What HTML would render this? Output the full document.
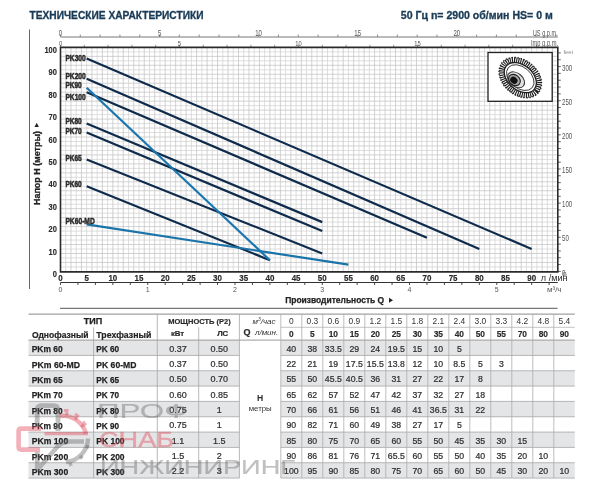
<!DOCTYPE html><html><head><meta charset="utf-8"><style>
html,body{margin:0;padding:0;background:#fff;width:600px;height:495px;overflow:hidden}
svg{display:block;filter:blur(0.35px)}
text{font-family:"Liberation Sans","DejaVu Sans",sans-serif}
</style></head><body>
<svg width="600" height="495" viewBox="0 0 600 495">
<text x="29.5" y="19.4" font-size="10.4" font-weight="bold" fill="#183a56" stroke="#183a56" stroke-width="0.3" textLength="174" lengthAdjust="spacingAndGlyphs">ТЕХНИЧЕСКИЕ ХАРАКТЕРИСТИКИ</text>
<text x="400.8" y="19.2" font-size="10.4" font-weight="bold" fill="#183a56" stroke="#183a56" stroke-width="0.3" textLength="152" lengthAdjust="spacingAndGlyphs">50 Гц n= 2900 об/мин HS= 0 м</text>
<line x1="29.5" y1="29.5" x2="29.5" y2="289" stroke="#666" stroke-width="1"/>
<path d="M65.73 47.40V271.40M76.20 47.40V271.40M86.67 47.40V271.40M97.15 47.40V271.40M107.62 47.40V271.40M118.09 47.40V271.40M128.56 47.40V271.40M139.03 47.40V271.40M149.50 47.40V271.40M159.97 47.40V271.40M170.44 47.40V271.40M180.91 47.40V271.40M191.38 47.40V271.40M201.84 47.40V271.40M212.31 47.40V271.40M222.78 47.40V271.40M233.26 47.40V271.40M243.73 47.40V271.40M254.20 47.40V271.40M264.67 47.40V271.40M275.13 47.40V271.40M285.61 47.40V271.40M296.08 47.40V271.40M306.55 47.40V271.40M317.02 47.40V271.40M327.49 47.40V271.40M337.96 47.40V271.40M348.43 47.40V271.40M358.90 47.40V271.40M369.37 47.40V271.40M379.84 47.40V271.40M390.31 47.40V271.40M400.78 47.40V271.40M411.25 47.40V271.40M421.72 47.40V271.40M432.19 47.40V271.40M442.66 47.40V271.40M453.12 47.40V271.40M463.60 47.40V271.40M474.06 47.40V271.40M484.54 47.40V271.40M495.01 47.40V271.40M505.48 47.40V271.40M515.95 47.40V271.40M526.41 47.40V271.40M536.88 47.40V271.40M547.36 47.40V271.40M60.50 266.92H557.80M60.50 257.96H557.80M60.50 249.00H557.80M60.50 240.04H557.80M60.50 231.08H557.80M60.50 222.12H557.80M60.50 213.16H557.80M60.50 204.20H557.80M60.50 195.24H557.80M60.50 186.28H557.80M60.50 177.32H557.80M60.50 168.36H557.80M60.50 159.40H557.80M60.50 150.44H557.80M60.50 141.48H557.80M60.50 132.52H557.80M60.50 123.56H557.80M60.50 114.60H557.80M60.50 105.64H557.80M60.50 96.68H557.80M60.50 87.72H557.80M60.50 78.76H557.80M60.50 69.80H557.80M60.50 60.84H557.80M60.50 51.88H557.80" stroke="#d6d6d6" stroke-width="0.8" fill="none"/>
<path d="M70.97 47.40V271.40M81.44 47.40V271.40M91.91 47.40V271.40M102.38 47.40V271.40M112.85 47.40V271.40M123.32 47.40V271.40M133.79 47.40V271.40M144.26 47.40V271.40M154.73 47.40V271.40M165.20 47.40V271.40M175.67 47.40V271.40M186.14 47.40V271.40M196.61 47.40V271.40M207.08 47.40V271.40M217.55 47.40V271.40M228.02 47.40V271.40M238.49 47.40V271.40M248.96 47.40V271.40M259.43 47.40V271.40M269.90 47.40V271.40M280.37 47.40V271.40M290.84 47.40V271.40M301.31 47.40V271.40M311.78 47.40V271.40M322.25 47.40V271.40M332.72 47.40V271.40M343.19 47.40V271.40M353.66 47.40V271.40M364.13 47.40V271.40M374.60 47.40V271.40M385.07 47.40V271.40M395.54 47.40V271.40M406.01 47.40V271.40M416.48 47.40V271.40M426.95 47.40V271.40M437.42 47.40V271.40M447.89 47.40V271.40M458.36 47.40V271.40M468.83 47.40V271.40M479.30 47.40V271.40M489.77 47.40V271.40M500.24 47.40V271.40M510.71 47.40V271.40M521.18 47.40V271.40M531.65 47.40V271.40M542.12 47.40V271.40M552.59 47.40V271.40M60.50 262.44H557.80M60.50 253.48H557.80M60.50 244.52H557.80M60.50 235.56H557.80M60.50 226.60H557.80M60.50 217.64H557.80M60.50 208.68H557.80M60.50 199.72H557.80M60.50 190.76H557.80M60.50 181.80H557.80M60.50 172.84H557.80M60.50 163.88H557.80M60.50 154.92H557.80M60.50 145.96H557.80M60.50 137.00H557.80M60.50 128.04H557.80M60.50 119.08H557.80M60.50 110.12H557.80M60.50 101.16H557.80M60.50 92.20H557.80M60.50 83.24H557.80M60.50 74.28H557.80M60.50 65.32H557.80M60.50 56.36H557.80" stroke="#c6c6c6" stroke-width="0.8" fill="none"/>
<line x1="60.5" y1="37" x2="557.8" y2="37" stroke="#777" stroke-width="1"/>
<path d="M60.50 37V34.5M80.31 37V34.5M100.13 37V34.5M119.94 37V34.5M139.76 37V34.5M159.57 37V34.5M179.39 37V34.5M199.20 37V34.5M219.02 37V34.5M238.83 37V34.5M258.64 37V34.5M278.46 37V34.5M298.27 37V34.5M318.09 37V34.5M337.90 37V34.5M357.72 37V34.5M377.53 37V34.5M397.35 37V34.5M417.16 37V34.5M436.98 37V34.5M456.79 37V34.5M476.60 37V34.5M496.42 37V34.5M516.23 37V34.5M536.05 37V34.5M555.86 37V34.5" stroke="#777" stroke-width="0.8"/>
<text x="60.50" y="36.4" font-size="8.4" fill="#555" text-anchor="middle" transform="translate(60.50 0) scale(0.72 1) translate(-60.50 0)">0</text>
<text x="159.57" y="36.4" font-size="8.4" fill="#555" text-anchor="middle" transform="translate(159.57 0) scale(0.72 1) translate(-159.57 0)">5</text>
<text x="258.64" y="36.4" font-size="8.4" fill="#555" text-anchor="middle" transform="translate(258.64 0) scale(0.72 1) translate(-258.64 0)">10</text>
<text x="357.72" y="36.4" font-size="8.4" fill="#555" text-anchor="middle" transform="translate(357.72 0) scale(0.72 1) translate(-357.72 0)">15</text>
<text x="456.79" y="36.4" font-size="8.4" fill="#555" text-anchor="middle" transform="translate(456.79 0) scale(0.72 1) translate(-456.79 0)">20</text>
<text x="557.8" y="36.3" font-size="8.6" fill="#555" text-anchor="end" textLength="25" lengthAdjust="spacingAndGlyphs">US g.p.m.</text>
<path d="M60.50 47.4V44.8M84.30 47.4V44.8M108.10 47.4V44.8M131.89 47.4V44.8M155.69 47.4V44.8M179.49 47.4V44.8M203.29 47.4V44.8M227.09 47.4V44.8M250.89 47.4V44.8M274.68 47.4V44.8M298.48 47.4V44.8M322.28 47.4V44.8M346.08 47.4V44.8M369.88 47.4V44.8M393.68 47.4V44.8M417.47 47.4V44.8M441.27 47.4V44.8M465.07 47.4V44.8M488.87 47.4V44.8M512.67 47.4V44.8M536.47 47.4V44.8" stroke="#777" stroke-width="0.8"/>
<text x="60.50" y="45.6" font-size="8" fill="#555" text-anchor="middle" transform="translate(60.50 0) scale(0.72 1) translate(-60.50 0)">0</text>
<text x="179.49" y="45.6" font-size="8" fill="#555" text-anchor="middle" transform="translate(179.49 0) scale(0.72 1) translate(-179.49 0)">5</text>
<text x="298.48" y="45.6" font-size="8" fill="#555" text-anchor="middle" transform="translate(298.48 0) scale(0.72 1) translate(-298.48 0)">10</text>
<text x="417.47" y="45.6" font-size="8" fill="#555" text-anchor="middle" transform="translate(417.47 0) scale(0.72 1) translate(-417.47 0)">15</text>
<text x="558" y="45.6" font-size="8.6" fill="#555" text-anchor="end" textLength="27" lengthAdjust="spacingAndGlyphs">Imp g.p.m.</text>
<path d="M557.80 271.40H560.80M557.80 264.57H560.80M557.80 257.74H560.80M557.80 250.92H560.80M557.80 244.09H560.80M557.80 237.26H560.80M557.80 230.43H560.80M557.80 223.61H560.80M557.80 216.78H560.80M557.80 209.95H560.80M557.80 203.12H560.80M557.80 196.30H560.80M557.80 189.47H560.80M557.80 182.64H560.80M557.80 175.81H560.80M557.80 168.99H560.80M557.80 162.16H560.80M557.80 155.33H560.80M557.80 148.50H560.80M557.80 141.68H560.80M557.80 134.85H560.80M557.80 128.02H560.80M557.80 121.19H560.80M557.80 114.37H560.80M557.80 107.54H560.80M557.80 100.71H560.80M557.80 93.88H560.80M557.80 87.06H560.80M557.80 80.23H560.80M557.80 73.40H560.80M557.80 66.57H560.80M557.80 59.75H560.80M557.80 52.92H560.80" stroke="#555" stroke-width="0.9"/>
<text x="562" y="275.60" font-size="8.4" fill="#555" textLength="3.4" lengthAdjust="spacingAndGlyphs">0</text>
<text x="562" y="241.46" font-size="8.4" fill="#555" textLength="6.8" lengthAdjust="spacingAndGlyphs">50</text>
<text x="562" y="207.32" font-size="8.4" fill="#555" textLength="10.2" lengthAdjust="spacingAndGlyphs">100</text>
<text x="562" y="173.19" font-size="8.4" fill="#555" textLength="10.2" lengthAdjust="spacingAndGlyphs">150</text>
<text x="562" y="139.05" font-size="8.4" fill="#555" textLength="10.2" lengthAdjust="spacingAndGlyphs">200</text>
<text x="562" y="104.91" font-size="8.4" fill="#555" textLength="10.2" lengthAdjust="spacingAndGlyphs">250</text>
<text x="562" y="70.77" font-size="8.4" fill="#555" textLength="10.2" lengthAdjust="spacingAndGlyphs">300</text>
<text x="563.5" y="53.5" font-size="4.5" fill="#888" textLength="9.5" lengthAdjust="spacingAndGlyphs">feet</text>
<rect x="488" y="52.5" width="64.2" height="48.8" fill="#fff" stroke="#222" stroke-width="1.3"/>
<g transform="translate(520.3 77.6) rotate(40)"><ellipse rx="23.6" ry="17.4" fill="none" stroke="#2a2a2a" stroke-width="1.3" stroke-dasharray="1.5 1.5"/><ellipse rx="20.9" ry="14.9" fill="none" stroke="#1e1e1e" stroke-width="5.2" stroke-dasharray="1.15 0.95"/><ellipse rx="18.2" ry="12.4" fill="#fff" stroke="#1e1e1e" stroke-width="1.3"/><ellipse rx="15.6" ry="10.6" fill="none" stroke="#333" stroke-width="0.9"/><ellipse cx="-1.8" cy="4.4" rx="9.6" ry="6.6" fill="#e0e0e0" stroke="#333" stroke-width="1"/><ellipse cx="-2.9" cy="5.6" rx="6.4" ry="5" fill="#a8a8a8" stroke="#1e1e1e" stroke-width="1.1"/><ellipse cx="-3.2" cy="6.2" rx="3.9" ry="3.2" fill="#111"/></g>
<path d="M60.5 271.9V47.4H557.8V271.9Z" fill="none" stroke="#2a2a2a" stroke-width="1.6"/>
<text x="57" y="277.00" font-size="9.9" font-weight="bold" fill="#2a2a2a" stroke="#2a2a2a" stroke-width="0.15" text-anchor="end" transform="translate(57 0) scale(0.76 1) translate(-57 0)">0</text>
<text x="57" y="254.60" font-size="9.9" font-weight="bold" fill="#2a2a2a" stroke="#2a2a2a" stroke-width="0.15" text-anchor="end" transform="translate(57 0) scale(0.76 1) translate(-57 0)">10</text>
<text x="57" y="232.20" font-size="9.9" font-weight="bold" fill="#2a2a2a" stroke="#2a2a2a" stroke-width="0.15" text-anchor="end" transform="translate(57 0) scale(0.76 1) translate(-57 0)">20</text>
<text x="57" y="209.80" font-size="9.9" font-weight="bold" fill="#2a2a2a" stroke="#2a2a2a" stroke-width="0.15" text-anchor="end" transform="translate(57 0) scale(0.76 1) translate(-57 0)">30</text>
<text x="57" y="187.40" font-size="9.9" font-weight="bold" fill="#2a2a2a" stroke="#2a2a2a" stroke-width="0.15" text-anchor="end" transform="translate(57 0) scale(0.76 1) translate(-57 0)">40</text>
<text x="57" y="165.00" font-size="9.9" font-weight="bold" fill="#2a2a2a" stroke="#2a2a2a" stroke-width="0.15" text-anchor="end" transform="translate(57 0) scale(0.76 1) translate(-57 0)">50</text>
<text x="57" y="142.60" font-size="9.9" font-weight="bold" fill="#2a2a2a" stroke="#2a2a2a" stroke-width="0.15" text-anchor="end" transform="translate(57 0) scale(0.76 1) translate(-57 0)">60</text>
<text x="57" y="120.20" font-size="9.9" font-weight="bold" fill="#2a2a2a" stroke="#2a2a2a" stroke-width="0.15" text-anchor="end" transform="translate(57 0) scale(0.76 1) translate(-57 0)">70</text>
<text x="57" y="97.80" font-size="9.9" font-weight="bold" fill="#2a2a2a" stroke="#2a2a2a" stroke-width="0.15" text-anchor="end" transform="translate(57 0) scale(0.76 1) translate(-57 0)">80</text>
<text x="57" y="75.40" font-size="9.9" font-weight="bold" fill="#2a2a2a" stroke="#2a2a2a" stroke-width="0.15" text-anchor="end" transform="translate(57 0) scale(0.76 1) translate(-57 0)">90</text>
<text x="57" y="53.00" font-size="9.9" font-weight="bold" fill="#2a2a2a" stroke="#2a2a2a" stroke-width="0.15" text-anchor="end" transform="translate(57 0) scale(0.76 1) translate(-57 0)">100</text>
<g transform="translate(40.2 205) rotate(-90)"><text x="0" y="0" font-size="8.2" font-weight="bold" fill="#222" stroke="#222" stroke-width="0.3" textLength="74" lengthAdjust="spacingAndGlyphs">Напор H (метры)</text><path d="M78 -5.7 L82.2 -3.5 L78 -1.3Z" fill="#222"/></g>
<line x1="86.67" y1="58.60" x2="531.65" y2="249.00" stroke="#0f2b4c" stroke-width="2.2" stroke-linecap="butt"/>
<line x1="86.67" y1="78.76" x2="479.30" y2="249.00" stroke="#0f2b4c" stroke-width="2.2" stroke-linecap="butt"/>
<line x1="86.67" y1="92.20" x2="426.95" y2="237.80" stroke="#0f2b4c" stroke-width="2.2" stroke-linecap="butt"/>
<line x1="86.67" y1="123.56" x2="322.25" y2="222.12" stroke="#0f2b4c" stroke-width="2.2" stroke-linecap="butt"/>
<line x1="86.67" y1="132.52" x2="322.25" y2="231.08" stroke="#0f2b4c" stroke-width="2.2" stroke-linecap="butt"/>
<line x1="86.67" y1="159.40" x2="322.25" y2="253.48" stroke="#0f2b4c" stroke-width="2.2" stroke-linecap="butt"/>
<line x1="86.67" y1="186.28" x2="269.90" y2="260.20" stroke="#0f2b4c" stroke-width="2.2" stroke-linecap="butt"/>
<line x1="86.67" y1="224.36" x2="348.43" y2="264.68" stroke="#1a74aa" stroke-width="2.2" stroke-linecap="butt"/>
<line x1="86.67" y1="87.72" x2="269.90" y2="260.20" stroke="#1a76ae" stroke-width="2.2" stroke-linecap="butt"/>
<text x="65.4" y="60.60" font-size="8.8" font-weight="bold" fill="#2a2a2a" stroke="#2a2a2a" stroke-width="0.5" textLength="20.4" lengthAdjust="spacingAndGlyphs">PK300</text>
<text x="65.4" y="79.40" font-size="8.8" font-weight="bold" fill="#2a2a2a" stroke="#2a2a2a" stroke-width="0.5" textLength="20.4" lengthAdjust="spacingAndGlyphs">PK200</text>
<text x="65.4" y="88.40" font-size="8.8" font-weight="bold" fill="#2a2a2a" stroke="#2a2a2a" stroke-width="0.5" textLength="16.3" lengthAdjust="spacingAndGlyphs">PK90</text>
<text x="65.4" y="100.30" font-size="8.8" font-weight="bold" fill="#2a2a2a" stroke="#2a2a2a" stroke-width="0.5" textLength="20.4" lengthAdjust="spacingAndGlyphs">PK100</text>
<text x="65.4" y="124.10" font-size="8.8" font-weight="bold" fill="#2a2a2a" stroke="#2a2a2a" stroke-width="0.5" textLength="16.3" lengthAdjust="spacingAndGlyphs">PK80</text>
<text x="65.4" y="133.70" font-size="8.8" font-weight="bold" fill="#2a2a2a" stroke="#2a2a2a" stroke-width="0.5" textLength="16.3" lengthAdjust="spacingAndGlyphs">PK70</text>
<text x="65.4" y="161.10" font-size="8.8" font-weight="bold" fill="#2a2a2a" stroke="#2a2a2a" stroke-width="0.5" textLength="16.3" lengthAdjust="spacingAndGlyphs">PK65</text>
<text x="65.4" y="186.60" font-size="8.8" font-weight="bold" fill="#2a2a2a" stroke="#2a2a2a" stroke-width="0.5" textLength="16.3" lengthAdjust="spacingAndGlyphs">PK60</text>
<text x="65.4" y="223.50" font-size="8.8" font-weight="bold" fill="#2a2a2a" stroke="#2a2a2a" stroke-width="0.5" textLength="29.4" lengthAdjust="spacingAndGlyphs">PK60-MD</text>
<text x="60.50" y="281.3" font-size="9.7" font-weight="bold" fill="#2a2a2a" stroke="#2a2a2a" stroke-width="0.2" text-anchor="middle" transform="translate(60.50 0) scale(0.82 1) translate(-60.50 0)">0</text>
<text x="86.67" y="281.3" font-size="9.7" font-weight="bold" fill="#2a2a2a" stroke="#2a2a2a" stroke-width="0.2" text-anchor="middle" transform="translate(86.67 0) scale(0.82 1) translate(-86.67 0)">5</text>
<text x="112.85" y="281.3" font-size="9.7" font-weight="bold" fill="#2a2a2a" stroke="#2a2a2a" stroke-width="0.2" text-anchor="middle" transform="translate(112.85 0) scale(0.82 1) translate(-112.85 0)">10</text>
<text x="139.03" y="281.3" font-size="9.7" font-weight="bold" fill="#2a2a2a" stroke="#2a2a2a" stroke-width="0.2" text-anchor="middle" transform="translate(139.03 0) scale(0.82 1) translate(-139.03 0)">15</text>
<text x="165.20" y="281.3" font-size="9.7" font-weight="bold" fill="#2a2a2a" stroke="#2a2a2a" stroke-width="0.2" text-anchor="middle" transform="translate(165.20 0) scale(0.82 1) translate(-165.20 0)">20</text>
<text x="191.38" y="281.3" font-size="9.7" font-weight="bold" fill="#2a2a2a" stroke="#2a2a2a" stroke-width="0.2" text-anchor="middle" transform="translate(191.38 0) scale(0.82 1) translate(-191.38 0)">25</text>
<text x="217.55" y="281.3" font-size="9.7" font-weight="bold" fill="#2a2a2a" stroke="#2a2a2a" stroke-width="0.2" text-anchor="middle" transform="translate(217.55 0) scale(0.82 1) translate(-217.55 0)">30</text>
<text x="243.73" y="281.3" font-size="9.7" font-weight="bold" fill="#2a2a2a" stroke="#2a2a2a" stroke-width="0.2" text-anchor="middle" transform="translate(243.73 0) scale(0.82 1) translate(-243.73 0)">35</text>
<text x="269.90" y="281.3" font-size="9.7" font-weight="bold" fill="#2a2a2a" stroke="#2a2a2a" stroke-width="0.2" text-anchor="middle" transform="translate(269.90 0) scale(0.82 1) translate(-269.90 0)">40</text>
<text x="296.08" y="281.3" font-size="9.7" font-weight="bold" fill="#2a2a2a" stroke="#2a2a2a" stroke-width="0.2" text-anchor="middle" transform="translate(296.08 0) scale(0.82 1) translate(-296.08 0)">45</text>
<text x="322.25" y="281.3" font-size="9.7" font-weight="bold" fill="#2a2a2a" stroke="#2a2a2a" stroke-width="0.2" text-anchor="middle" transform="translate(322.25 0) scale(0.82 1) translate(-322.25 0)">50</text>
<text x="348.43" y="281.3" font-size="9.7" font-weight="bold" fill="#2a2a2a" stroke="#2a2a2a" stroke-width="0.2" text-anchor="middle" transform="translate(348.43 0) scale(0.82 1) translate(-348.43 0)">55</text>
<text x="374.60" y="281.3" font-size="9.7" font-weight="bold" fill="#2a2a2a" stroke="#2a2a2a" stroke-width="0.2" text-anchor="middle" transform="translate(374.60 0) scale(0.82 1) translate(-374.60 0)">60</text>
<text x="400.78" y="281.3" font-size="9.7" font-weight="bold" fill="#2a2a2a" stroke="#2a2a2a" stroke-width="0.2" text-anchor="middle" transform="translate(400.78 0) scale(0.82 1) translate(-400.78 0)">65</text>
<text x="426.95" y="281.3" font-size="9.7" font-weight="bold" fill="#2a2a2a" stroke="#2a2a2a" stroke-width="0.2" text-anchor="middle" transform="translate(426.95 0) scale(0.82 1) translate(-426.95 0)">70</text>
<text x="453.12" y="281.3" font-size="9.7" font-weight="bold" fill="#2a2a2a" stroke="#2a2a2a" stroke-width="0.2" text-anchor="middle" transform="translate(453.12 0) scale(0.82 1) translate(-453.12 0)">75</text>
<text x="479.30" y="281.3" font-size="9.7" font-weight="bold" fill="#2a2a2a" stroke="#2a2a2a" stroke-width="0.2" text-anchor="middle" transform="translate(479.30 0) scale(0.82 1) translate(-479.30 0)">80</text>
<text x="505.48" y="281.3" font-size="9.7" font-weight="bold" fill="#2a2a2a" stroke="#2a2a2a" stroke-width="0.2" text-anchor="middle" transform="translate(505.48 0) scale(0.82 1) translate(-505.48 0)">85</text>
<text x="531.65" y="281.3" font-size="9.7" font-weight="bold" fill="#2a2a2a" stroke="#2a2a2a" stroke-width="0.2" text-anchor="middle" transform="translate(531.65 0) scale(0.82 1) translate(-531.65 0)">90</text>
<text x="540.8" y="281.4" font-size="9.8" fill="#2a2a2a" textLength="26.8" lengthAdjust="spacingAndGlyphs">л /мин</text>
<text x="562.5" y="276.5" font-size="7.5" fill="#555">0</text>
<line x1="60.5" y1="282.5" x2="557.8" y2="282.5" stroke="#333" stroke-width="1"/>
<path d="M60.50 282.5V285M77.95 282.5V285M95.40 282.5V285M112.85 282.5V285M130.30 282.5V285M147.75 282.5V285M165.20 282.5V285M182.65 282.5V285M200.10 282.5V285M217.55 282.5V285M235.00 282.5V285M252.45 282.5V285M269.90 282.5V285M287.35 282.5V285M304.80 282.5V285M322.25 282.5V285M339.70 282.5V285M357.15 282.5V285M374.60 282.5V285M392.05 282.5V285M409.50 282.5V285M426.95 282.5V285M444.40 282.5V285M461.85 282.5V285M479.30 282.5V285M496.75 282.5V285M514.20 282.5V285M531.65 282.5V285M549.10 282.5V285" stroke="#333" stroke-width="0.9"/>
<text x="60.50" y="291.8" font-size="7" fill="#555" text-anchor="middle">0</text>
<text x="147.75" y="291.8" font-size="7" fill="#555" text-anchor="middle">1</text>
<text x="235.00" y="291.8" font-size="7" fill="#555" text-anchor="middle">2</text>
<text x="322.25" y="291.8" font-size="7" fill="#555" text-anchor="middle">3</text>
<text x="409.50" y="291.8" font-size="7" fill="#555" text-anchor="middle">4</text>
<text x="496.75" y="291.8" font-size="7" fill="#555" text-anchor="middle">5</text>
<text x="547" y="291.8" font-size="7.6" fill="#555" textLength="14.5" lengthAdjust="spacingAndGlyphs">м³/ч</text>
<text x="285.2" y="302.8" font-size="8.8" font-weight="bold" fill="#222" stroke="#222" stroke-width="0.25" textLength="99" lengthAdjust="spacingAndGlyphs">Производительность Q</text>
<path d="M389 297.8 L393 300.3 L389 302.8Z" fill="#222"/>
<line x1="60" y1="308.3" x2="557.5" y2="308.3" stroke="#444" stroke-width="0.9"/>
<rect x="28.5" y="340.10" width="210.90" height="15.33" fill="#e4e5e7"/>
<rect x="280.8" y="340.10" width="294.00" height="15.33" fill="#e4e5e7"/>
<rect x="28.5" y="370.76" width="210.90" height="15.33" fill="#e4e5e7"/>
<rect x="280.8" y="370.76" width="294.00" height="15.33" fill="#e4e5e7"/>
<rect x="28.5" y="401.42" width="210.90" height="15.33" fill="#e4e5e7"/>
<rect x="280.8" y="401.42" width="294.00" height="15.33" fill="#e4e5e7"/>
<rect x="28.5" y="432.08" width="210.90" height="15.33" fill="#e4e5e7"/>
<rect x="280.8" y="432.08" width="294.00" height="15.33" fill="#e4e5e7"/>
<rect x="28.5" y="462.74" width="210.90" height="15.33" fill="#e4e5e7"/>
<rect x="280.8" y="462.74" width="294.00" height="15.33" fill="#e4e5e7"/>
<line x1="28.5" y1="314.1" x2="574.80" y2="314.1" stroke="#8a8a8a" stroke-width="1"/>
<line x1="280.8" y1="327.3" x2="574.80" y2="327.3" stroke="#b5b5b5" stroke-width="0.8"/>
<line x1="28.5" y1="340.1" x2="574.80" y2="340.1" stroke="#9a9a9a" stroke-width="1"/>
<line x1="28.5" y1="355.43" x2="239.40" y2="355.43" stroke="#a6a6a6" stroke-width="0.8"/>
<line x1="280.8" y1="355.43" x2="574.80" y2="355.43" stroke="#a6a6a6" stroke-width="0.8"/>
<line x1="28.5" y1="370.76" x2="239.40" y2="370.76" stroke="#a6a6a6" stroke-width="0.8"/>
<line x1="280.8" y1="370.76" x2="574.80" y2="370.76" stroke="#a6a6a6" stroke-width="0.8"/>
<line x1="28.5" y1="386.09" x2="239.40" y2="386.09" stroke="#a6a6a6" stroke-width="0.8"/>
<line x1="280.8" y1="386.09" x2="574.80" y2="386.09" stroke="#a6a6a6" stroke-width="0.8"/>
<line x1="28.5" y1="401.42" x2="239.40" y2="401.42" stroke="#a6a6a6" stroke-width="0.8"/>
<line x1="280.8" y1="401.42" x2="574.80" y2="401.42" stroke="#a6a6a6" stroke-width="0.8"/>
<line x1="28.5" y1="416.75" x2="239.40" y2="416.75" stroke="#a6a6a6" stroke-width="0.8"/>
<line x1="280.8" y1="416.75" x2="574.80" y2="416.75" stroke="#a6a6a6" stroke-width="0.8"/>
<line x1="28.5" y1="432.08" x2="239.40" y2="432.08" stroke="#a6a6a6" stroke-width="0.8"/>
<line x1="280.8" y1="432.08" x2="574.80" y2="432.08" stroke="#a6a6a6" stroke-width="0.8"/>
<line x1="28.5" y1="447.41" x2="239.40" y2="447.41" stroke="#a6a6a6" stroke-width="0.8"/>
<line x1="280.8" y1="447.41" x2="574.80" y2="447.41" stroke="#a6a6a6" stroke-width="0.8"/>
<line x1="28.5" y1="462.74" x2="239.40" y2="462.74" stroke="#a6a6a6" stroke-width="0.8"/>
<line x1="280.8" y1="462.74" x2="574.80" y2="462.74" stroke="#a6a6a6" stroke-width="0.8"/>
<line x1="28.5" y1="478.07" x2="239.40" y2="478.07" stroke="#a6a6a6" stroke-width="0.8"/>
<line x1="280.8" y1="478.07" x2="574.80" y2="478.07" stroke="#a6a6a6" stroke-width="0.8"/>
<line x1="93.6" y1="327.3" x2="93.6" y2="478.07" stroke="#a6a6a6" stroke-width="0.8"/>
<line x1="157.3" y1="314.1" x2="157.3" y2="478.07" stroke="#a6a6a6" stroke-width="0.8"/>
<line x1="198.7" y1="327.3" x2="198.7" y2="478.07" stroke="#a6a6a6" stroke-width="0.8"/>
<line x1="239.4" y1="314.1" x2="239.4" y2="478.07" stroke="#a6a6a6" stroke-width="0.8"/>
<line x1="280.80" y1="314.1" x2="280.80" y2="478.07" stroke="#acacac" stroke-width="0.8"/>
<line x1="301.80" y1="314.1" x2="301.80" y2="478.07" stroke="#acacac" stroke-width="0.8"/>
<line x1="322.80" y1="314.1" x2="322.80" y2="478.07" stroke="#acacac" stroke-width="0.8"/>
<line x1="343.80" y1="314.1" x2="343.80" y2="478.07" stroke="#acacac" stroke-width="0.8"/>
<line x1="364.80" y1="314.1" x2="364.80" y2="478.07" stroke="#acacac" stroke-width="0.8"/>
<line x1="385.80" y1="314.1" x2="385.80" y2="478.07" stroke="#acacac" stroke-width="0.8"/>
<line x1="406.80" y1="314.1" x2="406.80" y2="478.07" stroke="#acacac" stroke-width="0.8"/>
<line x1="427.80" y1="314.1" x2="427.80" y2="478.07" stroke="#acacac" stroke-width="0.8"/>
<line x1="448.80" y1="314.1" x2="448.80" y2="478.07" stroke="#acacac" stroke-width="0.8"/>
<line x1="469.80" y1="314.1" x2="469.80" y2="478.07" stroke="#acacac" stroke-width="0.8"/>
<line x1="490.80" y1="314.1" x2="490.80" y2="478.07" stroke="#acacac" stroke-width="0.8"/>
<line x1="511.80" y1="314.1" x2="511.80" y2="478.07" stroke="#acacac" stroke-width="0.8"/>
<line x1="532.80" y1="314.1" x2="532.80" y2="478.07" stroke="#acacac" stroke-width="0.8"/>
<line x1="553.80" y1="314.1" x2="553.80" y2="478.07" stroke="#acacac" stroke-width="0.8"/>
<text x="92.9" y="324" font-size="9" font-weight="bold" fill="#222" stroke="#222" stroke-width="0.25" text-anchor="middle">ТИП</text>
<text x="32" y="338.2" font-size="9.2" font-weight="bold" fill="#222" stroke="#222" stroke-width="0.2" textLength="56.6" lengthAdjust="spacingAndGlyphs">Однофазный</text>
<text x="96.3" y="338.2" font-size="9.2" font-weight="bold" fill="#222" stroke="#222" stroke-width="0.2" textLength="55" lengthAdjust="spacingAndGlyphs">Трехфазный</text>
<text x="199.5" y="323.7" font-size="8" font-weight="bold" fill="#2a2a2a" stroke="#2a2a2a" stroke-width="0.2" text-anchor="middle" textLength="62.4" lengthAdjust="spacingAndGlyphs">МОЩНОСТЬ (P2)</text>
<text x="177.5" y="335.7" font-size="7.8" font-weight="bold" fill="#2a2a2a" stroke="#2a2a2a" stroke-width="0.2" text-anchor="middle">кВт</text>
<text x="222.7" y="335.7" font-size="7.8" font-weight="bold" fill="#2a2a2a" stroke="#2a2a2a" stroke-width="0.2" text-anchor="middle">ЛС</text>
<text x="243.6" y="334.6" font-size="9" font-weight="bold" fill="#2a2a2a" stroke="#2a2a2a" stroke-width="0.2">Q</text>
<text x="275.5" y="324" font-size="8" font-style="italic" fill="#333" text-anchor="end">м<tspan font-size="5" dy="-2.8">3</tspan><tspan dy="2.8">/час</tspan></text>
<text x="278.2" y="334.7" font-size="8" font-style="italic" fill="#333" text-anchor="end">л/мин.</text>
<text x="291.30" y="324" font-size="8.4" fill="#333" text-anchor="middle">0</text>
<text x="291.30" y="336.6" font-size="8.4" font-weight="bold" fill="#2a2a2a" stroke="#2a2a2a" stroke-width="0.15" text-anchor="middle">0</text>
<text x="312.30" y="324" font-size="8.4" fill="#333" text-anchor="middle">0.3</text>
<text x="312.30" y="336.6" font-size="8.4" font-weight="bold" fill="#2a2a2a" stroke="#2a2a2a" stroke-width="0.15" text-anchor="middle">5</text>
<text x="333.30" y="324" font-size="8.4" fill="#333" text-anchor="middle">0.6</text>
<text x="333.30" y="336.6" font-size="8.4" font-weight="bold" fill="#2a2a2a" stroke="#2a2a2a" stroke-width="0.15" text-anchor="middle">10</text>
<text x="354.30" y="324" font-size="8.4" fill="#333" text-anchor="middle">0.9</text>
<text x="354.30" y="336.6" font-size="8.4" font-weight="bold" fill="#2a2a2a" stroke="#2a2a2a" stroke-width="0.15" text-anchor="middle">15</text>
<text x="375.30" y="324" font-size="8.4" fill="#333" text-anchor="middle">1.2</text>
<text x="375.30" y="336.6" font-size="8.4" font-weight="bold" fill="#2a2a2a" stroke="#2a2a2a" stroke-width="0.15" text-anchor="middle">20</text>
<text x="396.30" y="324" font-size="8.4" fill="#333" text-anchor="middle">1.5</text>
<text x="396.30" y="336.6" font-size="8.4" font-weight="bold" fill="#2a2a2a" stroke="#2a2a2a" stroke-width="0.15" text-anchor="middle">25</text>
<text x="417.30" y="324" font-size="8.4" fill="#333" text-anchor="middle">1.8</text>
<text x="417.30" y="336.6" font-size="8.4" font-weight="bold" fill="#2a2a2a" stroke="#2a2a2a" stroke-width="0.15" text-anchor="middle">30</text>
<text x="438.30" y="324" font-size="8.4" fill="#333" text-anchor="middle">2.1</text>
<text x="438.30" y="336.6" font-size="8.4" font-weight="bold" fill="#2a2a2a" stroke="#2a2a2a" stroke-width="0.15" text-anchor="middle">35</text>
<text x="459.30" y="324" font-size="8.4" fill="#333" text-anchor="middle">2.4</text>
<text x="459.30" y="336.6" font-size="8.4" font-weight="bold" fill="#2a2a2a" stroke="#2a2a2a" stroke-width="0.15" text-anchor="middle">40</text>
<text x="480.30" y="324" font-size="8.4" fill="#333" text-anchor="middle">3.0</text>
<text x="480.30" y="336.6" font-size="8.4" font-weight="bold" fill="#2a2a2a" stroke="#2a2a2a" stroke-width="0.15" text-anchor="middle">50</text>
<text x="501.30" y="324" font-size="8.4" fill="#333" text-anchor="middle">3.3</text>
<text x="501.30" y="336.6" font-size="8.4" font-weight="bold" fill="#2a2a2a" stroke="#2a2a2a" stroke-width="0.15" text-anchor="middle">55</text>
<text x="522.30" y="324" font-size="8.4" fill="#333" text-anchor="middle">4.2</text>
<text x="522.30" y="336.6" font-size="8.4" font-weight="bold" fill="#2a2a2a" stroke="#2a2a2a" stroke-width="0.15" text-anchor="middle">70</text>
<text x="543.30" y="324" font-size="8.4" fill="#333" text-anchor="middle">4.8</text>
<text x="543.30" y="336.6" font-size="8.4" font-weight="bold" fill="#2a2a2a" stroke="#2a2a2a" stroke-width="0.15" text-anchor="middle">80</text>
<text x="564.30" y="324" font-size="8.4" fill="#333" text-anchor="middle">5.4</text>
<text x="564.30" y="336.6" font-size="8.4" font-weight="bold" fill="#2a2a2a" stroke="#2a2a2a" stroke-width="0.15" text-anchor="middle">90</text>
<text x="260.2" y="400.6" font-size="8.6" font-weight="bold" fill="#2a2a2a" text-anchor="middle">H</text>
<text x="260.2" y="411" font-size="7.8" fill="#333" text-anchor="middle">метры</text>
<text x="31.7" y="352.30" font-size="9.8" font-weight="bold" fill="#222" stroke="#222" stroke-width="0.25" textLength="31" lengthAdjust="spacingAndGlyphs">PKm 60</text>
<text x="96.3" y="352.30" font-size="9.8" font-weight="bold" fill="#222" stroke="#222" stroke-width="0.25" textLength="22.8" lengthAdjust="spacingAndGlyphs">PK 60</text>
<text x="178" y="351.80" font-size="9" fill="#2e2e2e" stroke="#2e2e2e" stroke-width="0.22" text-anchor="middle">0.37</text>
<text x="219.2" y="351.80" font-size="9" fill="#2e2e2e" stroke="#2e2e2e" stroke-width="0.22" text-anchor="middle">0.50</text>
<text x="291.30" y="351.80" font-size="8.7" fill="#2e2e2e" stroke="#2e2e2e" stroke-width="0.22" text-anchor="middle">40</text>
<text x="312.30" y="351.80" font-size="8.7" fill="#2e2e2e" stroke="#2e2e2e" stroke-width="0.22" text-anchor="middle">38</text>
<text x="333.30" y="351.80" font-size="8.7" fill="#2e2e2e" stroke="#2e2e2e" stroke-width="0.22" text-anchor="middle">33.5</text>
<text x="354.30" y="351.80" font-size="8.7" fill="#2e2e2e" stroke="#2e2e2e" stroke-width="0.22" text-anchor="middle">29</text>
<text x="375.30" y="351.80" font-size="8.7" fill="#2e2e2e" stroke="#2e2e2e" stroke-width="0.22" text-anchor="middle">24</text>
<text x="396.30" y="351.80" font-size="8.7" fill="#2e2e2e" stroke="#2e2e2e" stroke-width="0.22" text-anchor="middle">19.5</text>
<text x="417.30" y="351.80" font-size="8.7" fill="#2e2e2e" stroke="#2e2e2e" stroke-width="0.22" text-anchor="middle">15</text>
<text x="438.30" y="351.80" font-size="8.7" fill="#2e2e2e" stroke="#2e2e2e" stroke-width="0.22" text-anchor="middle">10</text>
<text x="459.30" y="351.80" font-size="8.7" fill="#2e2e2e" stroke="#2e2e2e" stroke-width="0.22" text-anchor="middle">5</text>
<text x="31.7" y="367.63" font-size="9.8" font-weight="bold" fill="#222" stroke="#222" stroke-width="0.25" textLength="48.3" lengthAdjust="spacingAndGlyphs">PKm 60-MD</text>
<text x="96.3" y="367.63" font-size="9.8" font-weight="bold" fill="#222" stroke="#222" stroke-width="0.25" textLength="40.099999999999994" lengthAdjust="spacingAndGlyphs">PK 60-MD</text>
<text x="178" y="367.13" font-size="9" fill="#2e2e2e" stroke="#2e2e2e" stroke-width="0.22" text-anchor="middle">0.37</text>
<text x="219.2" y="367.13" font-size="9" fill="#2e2e2e" stroke="#2e2e2e" stroke-width="0.22" text-anchor="middle">0.50</text>
<text x="291.30" y="367.13" font-size="8.7" fill="#2e2e2e" stroke="#2e2e2e" stroke-width="0.22" text-anchor="middle">22</text>
<text x="312.30" y="367.13" font-size="8.7" fill="#2e2e2e" stroke="#2e2e2e" stroke-width="0.22" text-anchor="middle">21</text>
<text x="333.30" y="367.13" font-size="8.7" fill="#2e2e2e" stroke="#2e2e2e" stroke-width="0.22" text-anchor="middle">19</text>
<text x="354.30" y="367.13" font-size="8.7" fill="#2e2e2e" stroke="#2e2e2e" stroke-width="0.22" text-anchor="middle">17.5</text>
<text x="375.30" y="367.13" font-size="8.7" fill="#2e2e2e" stroke="#2e2e2e" stroke-width="0.22" text-anchor="middle">15.5</text>
<text x="396.30" y="367.13" font-size="8.7" fill="#2e2e2e" stroke="#2e2e2e" stroke-width="0.22" text-anchor="middle">13.8</text>
<text x="417.30" y="367.13" font-size="8.7" fill="#2e2e2e" stroke="#2e2e2e" stroke-width="0.22" text-anchor="middle">12</text>
<text x="438.30" y="367.13" font-size="8.7" fill="#2e2e2e" stroke="#2e2e2e" stroke-width="0.22" text-anchor="middle">10</text>
<text x="459.30" y="367.13" font-size="8.7" fill="#2e2e2e" stroke="#2e2e2e" stroke-width="0.22" text-anchor="middle">8.5</text>
<text x="480.30" y="367.13" font-size="8.7" fill="#2e2e2e" stroke="#2e2e2e" stroke-width="0.22" text-anchor="middle">5</text>
<text x="501.30" y="367.13" font-size="8.7" fill="#2e2e2e" stroke="#2e2e2e" stroke-width="0.22" text-anchor="middle">3</text>
<text x="31.7" y="382.96" font-size="9.8" font-weight="bold" fill="#222" stroke="#222" stroke-width="0.25" textLength="31" lengthAdjust="spacingAndGlyphs">PKm 65</text>
<text x="96.3" y="382.96" font-size="9.8" font-weight="bold" fill="#222" stroke="#222" stroke-width="0.25" textLength="22.8" lengthAdjust="spacingAndGlyphs">PK 65</text>
<text x="178" y="382.46" font-size="9" fill="#2e2e2e" stroke="#2e2e2e" stroke-width="0.22" text-anchor="middle">0.50</text>
<text x="219.2" y="382.46" font-size="9" fill="#2e2e2e" stroke="#2e2e2e" stroke-width="0.22" text-anchor="middle">0.70</text>
<text x="291.30" y="382.46" font-size="8.7" fill="#2e2e2e" stroke="#2e2e2e" stroke-width="0.22" text-anchor="middle">55</text>
<text x="312.30" y="382.46" font-size="8.7" fill="#2e2e2e" stroke="#2e2e2e" stroke-width="0.22" text-anchor="middle">50</text>
<text x="333.30" y="382.46" font-size="8.7" fill="#2e2e2e" stroke="#2e2e2e" stroke-width="0.22" text-anchor="middle">45.5</text>
<text x="354.30" y="382.46" font-size="8.7" fill="#2e2e2e" stroke="#2e2e2e" stroke-width="0.22" text-anchor="middle">40.5</text>
<text x="375.30" y="382.46" font-size="8.7" fill="#2e2e2e" stroke="#2e2e2e" stroke-width="0.22" text-anchor="middle">36</text>
<text x="396.30" y="382.46" font-size="8.7" fill="#2e2e2e" stroke="#2e2e2e" stroke-width="0.22" text-anchor="middle">31</text>
<text x="417.30" y="382.46" font-size="8.7" fill="#2e2e2e" stroke="#2e2e2e" stroke-width="0.22" text-anchor="middle">27</text>
<text x="438.30" y="382.46" font-size="8.7" fill="#2e2e2e" stroke="#2e2e2e" stroke-width="0.22" text-anchor="middle">22</text>
<text x="459.30" y="382.46" font-size="8.7" fill="#2e2e2e" stroke="#2e2e2e" stroke-width="0.22" text-anchor="middle">17</text>
<text x="480.30" y="382.46" font-size="8.7" fill="#2e2e2e" stroke="#2e2e2e" stroke-width="0.22" text-anchor="middle">8</text>
<text x="31.7" y="398.29" font-size="9.8" font-weight="bold" fill="#222" stroke="#222" stroke-width="0.25" textLength="31" lengthAdjust="spacingAndGlyphs">PKm 70</text>
<text x="96.3" y="398.29" font-size="9.8" font-weight="bold" fill="#222" stroke="#222" stroke-width="0.25" textLength="22.8" lengthAdjust="spacingAndGlyphs">PK 70</text>
<text x="178" y="397.79" font-size="9" fill="#2e2e2e" stroke="#2e2e2e" stroke-width="0.22" text-anchor="middle">0.60</text>
<text x="219.2" y="397.79" font-size="9" fill="#2e2e2e" stroke="#2e2e2e" stroke-width="0.22" text-anchor="middle">0.85</text>
<text x="291.30" y="397.79" font-size="8.7" fill="#2e2e2e" stroke="#2e2e2e" stroke-width="0.22" text-anchor="middle">65</text>
<text x="312.30" y="397.79" font-size="8.7" fill="#2e2e2e" stroke="#2e2e2e" stroke-width="0.22" text-anchor="middle">62</text>
<text x="333.30" y="397.79" font-size="8.7" fill="#2e2e2e" stroke="#2e2e2e" stroke-width="0.22" text-anchor="middle">57</text>
<text x="354.30" y="397.79" font-size="8.7" fill="#2e2e2e" stroke="#2e2e2e" stroke-width="0.22" text-anchor="middle">52</text>
<text x="375.30" y="397.79" font-size="8.7" fill="#2e2e2e" stroke="#2e2e2e" stroke-width="0.22" text-anchor="middle">47</text>
<text x="396.30" y="397.79" font-size="8.7" fill="#2e2e2e" stroke="#2e2e2e" stroke-width="0.22" text-anchor="middle">42</text>
<text x="417.30" y="397.79" font-size="8.7" fill="#2e2e2e" stroke="#2e2e2e" stroke-width="0.22" text-anchor="middle">37</text>
<text x="438.30" y="397.79" font-size="8.7" fill="#2e2e2e" stroke="#2e2e2e" stroke-width="0.22" text-anchor="middle">32</text>
<text x="459.30" y="397.79" font-size="8.7" fill="#2e2e2e" stroke="#2e2e2e" stroke-width="0.22" text-anchor="middle">27</text>
<text x="480.30" y="397.79" font-size="8.7" fill="#2e2e2e" stroke="#2e2e2e" stroke-width="0.22" text-anchor="middle">18</text>
<text x="31.7" y="413.62" font-size="9.8" font-weight="bold" fill="#222" stroke="#222" stroke-width="0.25" textLength="31" lengthAdjust="spacingAndGlyphs">PKm 80</text>
<text x="96.3" y="413.62" font-size="9.8" font-weight="bold" fill="#222" stroke="#222" stroke-width="0.25" textLength="22.8" lengthAdjust="spacingAndGlyphs">PK 80</text>
<text x="178" y="413.12" font-size="9" fill="#2e2e2e" stroke="#2e2e2e" stroke-width="0.22" text-anchor="middle">0.75</text>
<text x="219.2" y="413.12" font-size="9" fill="#2e2e2e" stroke="#2e2e2e" stroke-width="0.22" text-anchor="middle">1</text>
<text x="291.30" y="413.12" font-size="8.7" fill="#2e2e2e" stroke="#2e2e2e" stroke-width="0.22" text-anchor="middle">70</text>
<text x="312.30" y="413.12" font-size="8.7" fill="#2e2e2e" stroke="#2e2e2e" stroke-width="0.22" text-anchor="middle">66</text>
<text x="333.30" y="413.12" font-size="8.7" fill="#2e2e2e" stroke="#2e2e2e" stroke-width="0.22" text-anchor="middle">61</text>
<text x="354.30" y="413.12" font-size="8.7" fill="#2e2e2e" stroke="#2e2e2e" stroke-width="0.22" text-anchor="middle">56</text>
<text x="375.30" y="413.12" font-size="8.7" fill="#2e2e2e" stroke="#2e2e2e" stroke-width="0.22" text-anchor="middle">51</text>
<text x="396.30" y="413.12" font-size="8.7" fill="#2e2e2e" stroke="#2e2e2e" stroke-width="0.22" text-anchor="middle">46</text>
<text x="417.30" y="413.12" font-size="8.7" fill="#2e2e2e" stroke="#2e2e2e" stroke-width="0.22" text-anchor="middle">41</text>
<text x="438.30" y="413.12" font-size="8.7" fill="#2e2e2e" stroke="#2e2e2e" stroke-width="0.22" text-anchor="middle">36.5</text>
<text x="459.30" y="413.12" font-size="8.7" fill="#2e2e2e" stroke="#2e2e2e" stroke-width="0.22" text-anchor="middle">31</text>
<text x="480.30" y="413.12" font-size="8.7" fill="#2e2e2e" stroke="#2e2e2e" stroke-width="0.22" text-anchor="middle">22</text>
<text x="31.7" y="428.95" font-size="9.8" font-weight="bold" fill="#222" stroke="#222" stroke-width="0.25" textLength="31" lengthAdjust="spacingAndGlyphs">PKm 90</text>
<text x="96.3" y="428.95" font-size="9.8" font-weight="bold" fill="#222" stroke="#222" stroke-width="0.25" textLength="22.8" lengthAdjust="spacingAndGlyphs">PK 90</text>
<text x="178" y="428.45" font-size="9" fill="#2e2e2e" stroke="#2e2e2e" stroke-width="0.22" text-anchor="middle">0.75</text>
<text x="219.2" y="428.45" font-size="9" fill="#2e2e2e" stroke="#2e2e2e" stroke-width="0.22" text-anchor="middle">1</text>
<text x="291.30" y="428.45" font-size="8.7" fill="#2e2e2e" stroke="#2e2e2e" stroke-width="0.22" text-anchor="middle">90</text>
<text x="312.30" y="428.45" font-size="8.7" fill="#2e2e2e" stroke="#2e2e2e" stroke-width="0.22" text-anchor="middle">82</text>
<text x="333.30" y="428.45" font-size="8.7" fill="#2e2e2e" stroke="#2e2e2e" stroke-width="0.22" text-anchor="middle">71</text>
<text x="354.30" y="428.45" font-size="8.7" fill="#2e2e2e" stroke="#2e2e2e" stroke-width="0.22" text-anchor="middle">60</text>
<text x="375.30" y="428.45" font-size="8.7" fill="#2e2e2e" stroke="#2e2e2e" stroke-width="0.22" text-anchor="middle">49</text>
<text x="396.30" y="428.45" font-size="8.7" fill="#2e2e2e" stroke="#2e2e2e" stroke-width="0.22" text-anchor="middle">38</text>
<text x="417.30" y="428.45" font-size="8.7" fill="#2e2e2e" stroke="#2e2e2e" stroke-width="0.22" text-anchor="middle">27</text>
<text x="438.30" y="428.45" font-size="8.7" fill="#2e2e2e" stroke="#2e2e2e" stroke-width="0.22" text-anchor="middle">17</text>
<text x="459.30" y="428.45" font-size="8.7" fill="#2e2e2e" stroke="#2e2e2e" stroke-width="0.22" text-anchor="middle">5</text>
<text x="31.7" y="444.28" font-size="9.8" font-weight="bold" fill="#222" stroke="#222" stroke-width="0.25" textLength="36.5" lengthAdjust="spacingAndGlyphs">PKm 100</text>
<text x="96.3" y="444.28" font-size="9.8" font-weight="bold" fill="#222" stroke="#222" stroke-width="0.25" textLength="28.3" lengthAdjust="spacingAndGlyphs">PK 100</text>
<text x="178" y="443.78" font-size="9" fill="#2e2e2e" stroke="#2e2e2e" stroke-width="0.22" text-anchor="middle">1.1</text>
<text x="219.2" y="443.78" font-size="9" fill="#2e2e2e" stroke="#2e2e2e" stroke-width="0.22" text-anchor="middle">1.5</text>
<text x="291.30" y="443.78" font-size="8.7" fill="#2e2e2e" stroke="#2e2e2e" stroke-width="0.22" text-anchor="middle">85</text>
<text x="312.30" y="443.78" font-size="8.7" fill="#2e2e2e" stroke="#2e2e2e" stroke-width="0.22" text-anchor="middle">80</text>
<text x="333.30" y="443.78" font-size="8.7" fill="#2e2e2e" stroke="#2e2e2e" stroke-width="0.22" text-anchor="middle">75</text>
<text x="354.30" y="443.78" font-size="8.7" fill="#2e2e2e" stroke="#2e2e2e" stroke-width="0.22" text-anchor="middle">70</text>
<text x="375.30" y="443.78" font-size="8.7" fill="#2e2e2e" stroke="#2e2e2e" stroke-width="0.22" text-anchor="middle">65</text>
<text x="396.30" y="443.78" font-size="8.7" fill="#2e2e2e" stroke="#2e2e2e" stroke-width="0.22" text-anchor="middle">60</text>
<text x="417.30" y="443.78" font-size="8.7" fill="#2e2e2e" stroke="#2e2e2e" stroke-width="0.22" text-anchor="middle">55</text>
<text x="438.30" y="443.78" font-size="8.7" fill="#2e2e2e" stroke="#2e2e2e" stroke-width="0.22" text-anchor="middle">50</text>
<text x="459.30" y="443.78" font-size="8.7" fill="#2e2e2e" stroke="#2e2e2e" stroke-width="0.22" text-anchor="middle">45</text>
<text x="480.30" y="443.78" font-size="8.7" fill="#2e2e2e" stroke="#2e2e2e" stroke-width="0.22" text-anchor="middle">35</text>
<text x="501.30" y="443.78" font-size="8.7" fill="#2e2e2e" stroke="#2e2e2e" stroke-width="0.22" text-anchor="middle">30</text>
<text x="522.30" y="443.78" font-size="8.7" fill="#2e2e2e" stroke="#2e2e2e" stroke-width="0.22" text-anchor="middle">15</text>
<text x="31.7" y="459.61" font-size="9.8" font-weight="bold" fill="#222" stroke="#222" stroke-width="0.25" textLength="36.5" lengthAdjust="spacingAndGlyphs">PKm 200</text>
<text x="96.3" y="459.61" font-size="9.8" font-weight="bold" fill="#222" stroke="#222" stroke-width="0.25" textLength="28.3" lengthAdjust="spacingAndGlyphs">PK 200</text>
<text x="178" y="459.11" font-size="9" fill="#2e2e2e" stroke="#2e2e2e" stroke-width="0.22" text-anchor="middle">1.5</text>
<text x="219.2" y="459.11" font-size="9" fill="#2e2e2e" stroke="#2e2e2e" stroke-width="0.22" text-anchor="middle">2</text>
<text x="291.30" y="459.11" font-size="8.7" fill="#2e2e2e" stroke="#2e2e2e" stroke-width="0.22" text-anchor="middle">90</text>
<text x="312.30" y="459.11" font-size="8.7" fill="#2e2e2e" stroke="#2e2e2e" stroke-width="0.22" text-anchor="middle">86</text>
<text x="333.30" y="459.11" font-size="8.7" fill="#2e2e2e" stroke="#2e2e2e" stroke-width="0.22" text-anchor="middle">81</text>
<text x="354.30" y="459.11" font-size="8.7" fill="#2e2e2e" stroke="#2e2e2e" stroke-width="0.22" text-anchor="middle">76</text>
<text x="375.30" y="459.11" font-size="8.7" fill="#2e2e2e" stroke="#2e2e2e" stroke-width="0.22" text-anchor="middle">71</text>
<text x="396.30" y="459.11" font-size="8.7" fill="#2e2e2e" stroke="#2e2e2e" stroke-width="0.22" text-anchor="middle">65.5</text>
<text x="417.30" y="459.11" font-size="8.7" fill="#2e2e2e" stroke="#2e2e2e" stroke-width="0.22" text-anchor="middle">60</text>
<text x="438.30" y="459.11" font-size="8.7" fill="#2e2e2e" stroke="#2e2e2e" stroke-width="0.22" text-anchor="middle">55</text>
<text x="459.30" y="459.11" font-size="8.7" fill="#2e2e2e" stroke="#2e2e2e" stroke-width="0.22" text-anchor="middle">50</text>
<text x="480.30" y="459.11" font-size="8.7" fill="#2e2e2e" stroke="#2e2e2e" stroke-width="0.22" text-anchor="middle">40</text>
<text x="501.30" y="459.11" font-size="8.7" fill="#2e2e2e" stroke="#2e2e2e" stroke-width="0.22" text-anchor="middle">35</text>
<text x="522.30" y="459.11" font-size="8.7" fill="#2e2e2e" stroke="#2e2e2e" stroke-width="0.22" text-anchor="middle">20</text>
<text x="543.30" y="459.11" font-size="8.7" fill="#2e2e2e" stroke="#2e2e2e" stroke-width="0.22" text-anchor="middle">10</text>
<text x="31.7" y="474.94" font-size="9.8" font-weight="bold" fill="#222" stroke="#222" stroke-width="0.25" textLength="36.5" lengthAdjust="spacingAndGlyphs">PKm 300</text>
<text x="96.3" y="474.94" font-size="9.8" font-weight="bold" fill="#222" stroke="#222" stroke-width="0.25" textLength="28.3" lengthAdjust="spacingAndGlyphs">PK 300</text>
<text x="178" y="474.44" font-size="9" fill="#2e2e2e" stroke="#2e2e2e" stroke-width="0.22" text-anchor="middle">2.2</text>
<text x="219.2" y="474.44" font-size="9" fill="#2e2e2e" stroke="#2e2e2e" stroke-width="0.22" text-anchor="middle">3</text>
<text x="291.30" y="474.44" font-size="8.7" fill="#2e2e2e" stroke="#2e2e2e" stroke-width="0.22" text-anchor="middle">100</text>
<text x="312.30" y="474.44" font-size="8.7" fill="#2e2e2e" stroke="#2e2e2e" stroke-width="0.22" text-anchor="middle">95</text>
<text x="333.30" y="474.44" font-size="8.7" fill="#2e2e2e" stroke="#2e2e2e" stroke-width="0.22" text-anchor="middle">90</text>
<text x="354.30" y="474.44" font-size="8.7" fill="#2e2e2e" stroke="#2e2e2e" stroke-width="0.22" text-anchor="middle">85</text>
<text x="375.30" y="474.44" font-size="8.7" fill="#2e2e2e" stroke="#2e2e2e" stroke-width="0.22" text-anchor="middle">80</text>
<text x="396.30" y="474.44" font-size="8.7" fill="#2e2e2e" stroke="#2e2e2e" stroke-width="0.22" text-anchor="middle">75</text>
<text x="417.30" y="474.44" font-size="8.7" fill="#2e2e2e" stroke="#2e2e2e" stroke-width="0.22" text-anchor="middle">70</text>
<text x="438.30" y="474.44" font-size="8.7" fill="#2e2e2e" stroke="#2e2e2e" stroke-width="0.22" text-anchor="middle">65</text>
<text x="459.30" y="474.44" font-size="8.7" fill="#2e2e2e" stroke="#2e2e2e" stroke-width="0.22" text-anchor="middle">60</text>
<text x="480.30" y="474.44" font-size="8.7" fill="#2e2e2e" stroke="#2e2e2e" stroke-width="0.22" text-anchor="middle">50</text>
<text x="501.30" y="474.44" font-size="8.7" fill="#2e2e2e" stroke="#2e2e2e" stroke-width="0.22" text-anchor="middle">45</text>
<text x="522.30" y="474.44" font-size="8.7" fill="#2e2e2e" stroke="#2e2e2e" stroke-width="0.22" text-anchor="middle">30</text>
<text x="543.30" y="474.44" font-size="8.7" fill="#2e2e2e" stroke="#2e2e2e" stroke-width="0.22" text-anchor="middle">20</text>
<text x="564.30" y="474.44" font-size="8.7" fill="#2e2e2e" stroke="#2e2e2e" stroke-width="0.22" text-anchor="middle">10</text>
<g fill="none" stroke-linecap="butt">
<path d="M37.2 427 V410 Q37.2 405.6 41.6 405.6 H53.6 Q58 405.6 58 410 V431" stroke="rgba(105,105,105,0.42)" stroke-width="4.8"/>
<path d="M41 428.6 H21.2 Q18.6 428.6 18.6 431.2 V447 Q18.6 449.6 21.2 449.6 H40" stroke="rgba(225,70,85,0.42)" stroke-width="4.6"/>
<path d="M60 416 A24 24 0 0 1 86 433.7" stroke="rgba(225,70,85,0.42)" stroke-width="4.5"/>
<path d="M64 410.5 l3 0 l-0.3 5 M75 414 l2.6 1.8 l-2.6 4 M83 421.5 l2 2.6 l-4 2.6" stroke="rgba(225,70,85,0.42)" stroke-width="3"/>
<path d="M44.5 433.7 H88" stroke="rgba(225,70,85,0.42)" stroke-width="3.2"/>
<path d="M88 438.5 A24 24 0 0 1 66 462" stroke="rgba(105,105,105,0.42)" stroke-width="4.5"/>
<path d="M86 446 l3 1.5 M80 456 l2.5 2.5 M70 463 l1 3" stroke="rgba(105,105,105,0.42)" stroke-width="3.5"/>
<path d="M37.2 452 V471 M38 469 L58 446 Q62 442 70 441.5 H84" stroke="rgba(105,105,105,0.42)" stroke-width="4.6"/>
</g>
<g opacity="0.42"><text x="97" y="418" font-family="DejaVu Sans, sans-serif" font-size="20.5" fill="#696969" stroke="#696969" stroke-width="0.2" textLength="91" lengthAdjust="spacingAndGlyphs">ПРОФ</text></g>
<g opacity="0.42"><text x="99" y="447" font-family="DejaVu Sans, sans-serif" font-size="22" fill="#e14655" stroke="#e14655" stroke-width="0.4" textLength="75" lengthAdjust="spacingAndGlyphs">СНАБ</text></g>
<g opacity="0.42"><text x="100" y="474" font-family="DejaVu Sans, sans-serif" font-size="20.5" fill="#696969" stroke="#696969" stroke-width="0.2" textLength="195" lengthAdjust="spacingAndGlyphs">ИНЖИНИРИНГ</text></g>
</svg></body></html>
